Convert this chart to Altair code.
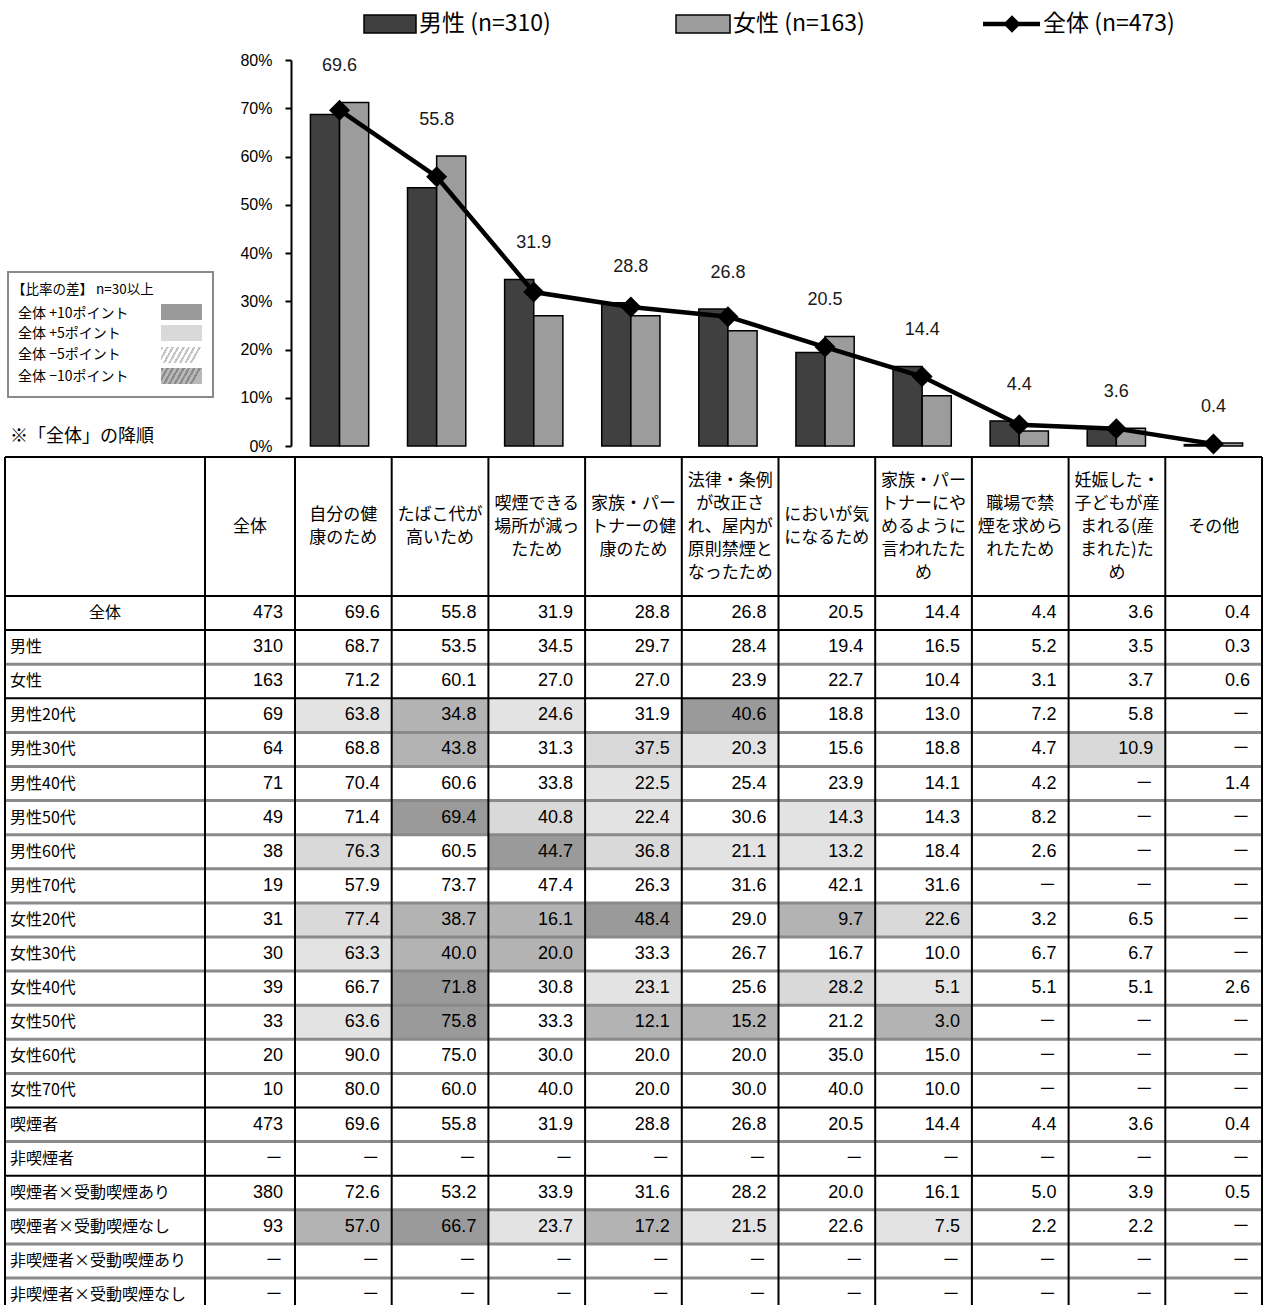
import altair as alt
import pandas as pd

# ---------------- data ----------------
categories = [
    "自分の健康のため", "たばこ代が高いため", "喫煙できる場所が減ったため",
    "家族・パートナーの健康のため", "法律・条例が改正され、屋内が原則禁煙となったため",
    "においが気になるため", "家族・パートナーにやめるように言われたため",
    "職場で禁煙を求められたため", "妊娠した・子どもが産まれる(産まれた)ため", "その他",
]
header_lines = [
    ["全体"],
    ["自分の健", "康のため"],
    ["たばこ代が", "高いため"],
    ["喫煙できる", "場所が減っ", "たため"],
    ["家族・パー", "トナーの健", "康のため"],
    ["法律・条例", "が改正さ", "れ、屋内が", "原則禁煙と", "なったため"],
    ["においが気", "になるため"],
    ["家族・パー", "トナーにや", "めるように", "言われたた", "め"],
    ["職場で禁", "煙を求めら", "れたため"],
    ["妊娠した・", "子どもが産", "まれる(産", "まれた)た", "め"],
    ["その他"],
]
male = [68.7, 53.5, 34.5, 29.7, 28.4, 19.4, 16.5, 5.2, 3.5, 0.3]
female = [71.2, 60.1, 27.0, 27.0, 23.9, 22.7, 10.4, 3.1, 3.7, 0.6]
total = [69.6, 55.8, 31.9, 28.8, 26.8, 20.5, 14.4, 4.4, 3.6, 0.4]

legend_labels = ["男性 (n=310)", "女性 (n=163)", "全体 (n=473)"]
diff_legend = ["全体 +10ポイント", "全体 +5ポイント", "全体 −5ポイント", "全体 −10ポイント"]

row_labels = [
    "全体", "男性", "女性",
    "男性20代", "男性30代", "男性40代", "男性50代", "男性60代", "男性70代",
    "女性20代", "女性30代", "女性40代", "女性50代", "女性60代", "女性70代",
    "喫煙者", "非喫煙者",
    "喫煙者×受動喫煙あり", "喫煙者×受動喫煙なし",
    "非喫煙者×受動喫煙あり", "非喫煙者×受動喫煙なし",
]
row_n = [473, 310, 163, 69, 64, 71, 49, 38, 19, 31, 30, 39, 33, 20, 10,
         473, None, 380, 93, None, None]
N = None
table_values = [
    [69.6, 55.8, 31.9, 28.8, 26.8, 20.5, 14.4, 4.4, 3.6, 0.4],
    [68.7, 53.5, 34.5, 29.7, 28.4, 19.4, 16.5, 5.2, 3.5, 0.3],
    [71.2, 60.1, 27.0, 27.0, 23.9, 22.7, 10.4, 3.1, 3.7, 0.6],
    [63.8, 34.8, 24.6, 31.9, 40.6, 18.8, 13.0, 7.2, 5.8, N],
    [68.8, 43.8, 31.3, 37.5, 20.3, 15.6, 18.8, 4.7, 10.9, N],
    [70.4, 60.6, 33.8, 22.5, 25.4, 23.9, 14.1, 4.2, N, 1.4],
    [71.4, 69.4, 40.8, 22.4, 30.6, 14.3, 14.3, 8.2, N, N],
    [76.3, 60.5, 44.7, 36.8, 21.1, 13.2, 18.4, 2.6, N, N],
    [57.9, 73.7, 47.4, 26.3, 31.6, 42.1, 31.6, N, N, N],
    [77.4, 38.7, 16.1, 48.4, 29.0, 9.7, 22.6, 3.2, 6.5, N],
    [63.3, 40.0, 20.0, 33.3, 26.7, 16.7, 10.0, 6.7, 6.7, N],
    [66.7, 71.8, 30.8, 23.1, 25.6, 28.2, 5.1, 5.1, 5.1, 2.6],
    [63.6, 75.8, 33.3, 12.1, 15.2, 21.2, 3.0, N, N, N],
    [90.0, 75.0, 30.0, 20.0, 20.0, 35.0, 15.0, N, N, N],
    [80.0, 60.0, 40.0, 20.0, 30.0, 40.0, 10.0, N, N, N],
    [69.6, 55.8, 31.9, 28.8, 26.8, 20.5, 14.4, 4.4, 3.6, 0.4],
    [N, N, N, N, N, N, N, N, N, N],
    [72.6, 53.2, 33.9, 31.6, 28.2, 20.0, 16.1, 5.0, 3.9, 0.5],
    [57.0, 66.7, 23.7, 17.2, 21.5, 22.6, 7.5, 2.2, 2.2, N],
    [N, N, N, N, N, N, N, N, N, N],
    [N, N, N, N, N, N, N, N, N, N],
]
black_boundaries = [-1, 0, 1, 3, 15, 17]

# ---------------- styles / layout ----------------
JP = "'Noto Sans CJK JP', sans-serif"
NUM = "'Liberation Sans', 'Noto Sans CJK JP', sans-serif"
MALE_C = "#404040"
FEMALE_C = "#9c9c9c"
SHADES = ["+10", "+5", "-5", "-10"]
SHADE_C = ["#9a9a9a", "#d9d9d9", "#e3e3e3", "#b3b3b3"]
HEAD_TOP, HEAD_BOTTOM, ROW_H = 457, 596, 34.1
HEAD_LINE_H = 23

# ---------------- chart part ----------------
bar_rows = []
for c, m, f in zip(categories, male, female):
    bar_rows.append({"cat": c, "sex": "男性", "value": m})
    bar_rows.append({"cat": c, "sex": "女性", "value": f})
bar_df = pd.DataFrame(bar_rows)
tot_df = pd.DataFrame({"cat": categories, "total": total, "male": male, "female": female})

x_band = alt.Scale(domain=categories, range=[291, 1262], paddingInner=0.4, paddingOuter=0.2)
y_pct = alt.Scale(domain=[0, 80], range=[446, 60], zero=True, nice=False)
y_axis = alt.Axis(values=list(range(0, 90, 10)), labelExpr="datum.value + '%'", offset=-291,
                  domainColor="black", domainWidth=2, tickColor="black", tickWidth=2, tickSize=6,
                  labelPadding=13, labelFont=NUM, labelFontSize=16, labelColor="black",
                  title=None, grid=False)
X = alt.X("cat:N", scale=x_band, axis=None)

bars = alt.Chart(bar_df).mark_bar(stroke="black", strokeWidth=1.5).encode(
    x=X,
    xOffset=alt.XOffset("sex:N", sort=["男性", "女性"]),
    y=alt.Y("value:Q", scale=y_pct, axis=y_axis),
    fill=alt.Fill("sex:N", scale=alt.Scale(domain=["男性", "女性"], range=[MALE_C, FEMALE_C]), legend=None),
)
line = alt.Chart(tot_df).mark_line(color="black", strokeWidth=4.5).encode(
    x=X, y=alt.Y("total:Q", scale=y_pct, axis=y_axis))
pts = alt.Chart(tot_df).mark_point(shape="diamond", filled=True, color="black", size=440, opacity=1).encode(
    x=X, y=alt.Y("total:Q", scale=y_pct, axis=y_axis))
lbls = alt.Chart(tot_df).transform_calculate(
    ly="max(datum.male, datum.female, datum.total) + 7.5"
).mark_text(font=NUM, fontSize=18, color="#1a1a1a", baseline="middle").encode(
    x=X, y=alt.Y("ly:Q", scale=y_pct, axis=y_axis), text=alt.Text("total:Q", format=".1f"))
chart_part = alt.layer(bars, line, pts, lbls)

# ---------------- table part ----------------
cells = []
for r, (lab, n, vals) in enumerate(zip(row_labels, row_n, table_values)):
    cells.append({"r": r, "rm": r + 0.5, "c": 1, "c1": 2, "txt": "－" if n is None else str(n), "shade": "none"})
    for j, v in enumerate(vals):
        shade = "none"
        if n is not None and n >= 30 and r > 0:
            d = round((v or 0) - total[j], 1)
            if d >= 10:
                shade = "+10"
            elif d >= 5:
                shade = "+5"
            elif d <= -10:
                shade = "-10"
            elif d <= -5:
                shade = "-5"
        cells.append({"r": r, "r1": r + 1, "rm": r + 0.5, "c": j + 2, "c1": j + 3,
                      "txt": "－" if v is None else f"{v:.1f}", "shade": shade})
cell_df = pd.DataFrame(cells)
lab_df = pd.DataFrame({"lab": row_labels, "rm": [i + 0.5 for i in range(len(row_labels))],
                       "c0": 0, "cm": 0.5})
# header rows are one scale unit tall; shift the first line up so the block is centred
line_units = HEAD_LINE_H / (HEAD_BOTTOM - HEAD_TOP)
head_df = pd.DataFrame({
    "txt": ["\n".join(h) for h in header_lines],
    "cm": [i + 1.5 for i in range(len(header_lines))],
    "ym": [-0.5 - (len(h) - 1) / 2 * line_units for h in header_lines],
})

nb = len(row_labels)
hb_df = pd.DataFrame({"b": list(range(-1, nb + 1)), "x0": 0, "x1": 12})
hb_df["kind"] = ["black" if b in black_boundaries else "gray" for b in hb_df["b"]]
vb_df = pd.DataFrame({"c": list(range(0, 13)), "y0": -1, "y1": nb})

tx = alt.Scale(domain=[0, 1, 2, 12], range=[5, 205, 295, 1262], zero=False, nice=False)
ty = alt.Scale(domain=[-1, 0, nb], range=[HEAD_TOP, HEAD_BOTTOM, HEAD_BOTTOM + ROW_H * nb],
               zero=False, nice=False)

shade_rect = alt.Chart(cell_df).transform_filter("datum.shade != 'none'").mark_rect().encode(
    x=alt.X("c:Q", scale=tx, axis=None), x2="c1:Q",
    y=alt.Y("r:Q", scale=ty, axis=None), y2="r1:Q",
    fill=alt.Fill("shade:N", scale=alt.Scale(domain=SHADES, range=SHADE_C), legend=None),
)
gray_lines = alt.Chart(hb_df).transform_filter("datum.kind == 'gray'").mark_rule(
    color="#8a8a8a", strokeWidth=3).encode(
    x=alt.X("x0:Q", scale=tx, axis=None), x2="x1:Q", y=alt.Y("b:Q", scale=ty, axis=None))
vlines = alt.Chart(vb_df).mark_rule(color="black", strokeWidth=2).encode(
    x=alt.X("c:Q", scale=tx, axis=None), y=alt.Y("y0:Q", scale=ty, axis=None), y2="y1:Q")
black_lines = alt.Chart(hb_df).transform_filter("datum.kind == 'black'").mark_rule(
    color="black", strokeWidth=2).encode(
    x=alt.X("x0:Q", scale=tx, axis=None), x2="x1:Q", y=alt.Y("b:Q", scale=ty, axis=None))
num_text = alt.Chart(cell_df).mark_text(align="right", baseline="middle", dx=-12, font=NUM,
                                        fontSize=18, color="black").encode(
    x=alt.X("c1:Q", scale=tx, axis=None), y=alt.Y("rm:Q", scale=ty, axis=None), text="txt:N")
lab_left = alt.Chart(lab_df).transform_filter("datum.rm > 1").mark_text(
    align="left", baseline="middle", dx=5, font=JP, fontSize=16, color="black").encode(
    x=alt.X("c0:Q", scale=tx, axis=None), y=alt.Y("rm:Q", scale=ty, axis=None), text="lab:N")
lab_center = alt.Chart(lab_df).transform_filter("datum.rm < 1").mark_text(
    align="center", baseline="middle", font=JP, fontSize=16, color="black").encode(
    x=alt.X("cm:Q", scale=tx, axis=None), y=alt.Y("rm:Q", scale=ty, axis=None), text="lab:N")
head_text = alt.Chart(head_df).mark_text(
    align="center", baseline="middle", font=JP, fontSize=17, lineBreak="\n", lineHeight=HEAD_LINE_H,
    color="black").encode(
    x=alt.X("cm:Q", scale=tx, axis=None), y=alt.Y("ym:Q", scale=ty, axis=None), text="txt:N")
table_part = alt.layer(shade_rect, gray_lines, vlines, black_lines, num_text, lab_left, lab_center, head_text)

# ---------------- decorations (legends, notes) ----------------
one = pd.DataFrame({"k": [0]})


def d_text(txt, x, y, size, font=JP, align="left"):
    return alt.Chart(one).mark_text(text=txt, align=align, baseline="middle", fontSize=size,
                                    font=font, color="black").encode(x=alt.value(x), y=alt.value(y))


def d_rect(x, x2, y, y2, fill, stroke=None, sw=0):
    kw = dict(fill=fill)
    if stroke:
        kw.update(stroke=stroke, strokeWidth=sw)
    return alt.Chart(one).mark_rect(**kw).encode(
        x=alt.value(x), x2=alt.value(x2), y=alt.value(y), y2=alt.value(y2))


def hatch(bg, fg, n=8):
    stops = []
    for i in range(n):
        a, b, e = i / n, (i + 0.45) / n, (i + 1) / n
        stops += [alt.GradientStop(offset=a, color=fg), alt.GradientStop(offset=b, color=fg),
                  alt.GradientStop(offset=b, color=bg), alt.GradientStop(offset=e, color=bg)]
    return alt.LinearGradient(gradient="linear", stops=stops, x1=0, y1=0, x2=1, y2=0.22)


deco = [
    d_rect(364, 416, 15, 33, MALE_C, "black", 1.5),
    d_text(legend_labels[0], 419, 24, 23),
    d_rect(676, 730, 15, 33, FEMALE_C, "black", 1.5),
    d_text(legend_labels[1], 733, 24, 23),
    alt.Chart(one).mark_rule(color="black", strokeWidth=4.5).encode(
        x=alt.value(983), x2=alt.value(1040), y=alt.value(24)),
    alt.Chart(one).mark_point(shape="diamond", filled=True, color="black", size=300, opacity=1).encode(
        x=alt.value(1012), y=alt.value(24)),
    d_text(legend_labels[2], 1043, 24, 23),
    # difference legend box
    d_rect(8, 213, 272, 397, "white", "#8a8a8a", 2),
    d_text("【比率の差】 n=30以上", 12, 290, 13.5),
    d_text(diff_legend[0], 18, 314, 14),
    d_text(diff_legend[1], 18, 334, 14),
    d_text(diff_legend[2], 18, 355, 14),
    d_text(diff_legend[3], 18, 377, 14),
    d_rect(161, 202, 304, 320, "#9a9a9a"),
    d_rect(161, 202, 325, 341, "#d9d9d9"),
    d_rect(161, 202, 347, 363, hatch("#ffffff", "#c4c4c4")),
    d_rect(161, 202, 368, 384, hatch("#b8b8b8", "#8a8a8a")),
    d_text("※「全体」の降順", 10, 437, 18),
]

chart = alt.layer(chart_part, table_part, *deco).resolve_scale(
    x="independent", y="independent", fill="independent"
).properties(
    width=1265, height=1305, padding=0, autosize=alt.AutoSizeParams(type="none"),
    background="white",
).configure_view(stroke=None)

chart.save("out.html", embed_options={"renderer": "svg", "actions": False})
